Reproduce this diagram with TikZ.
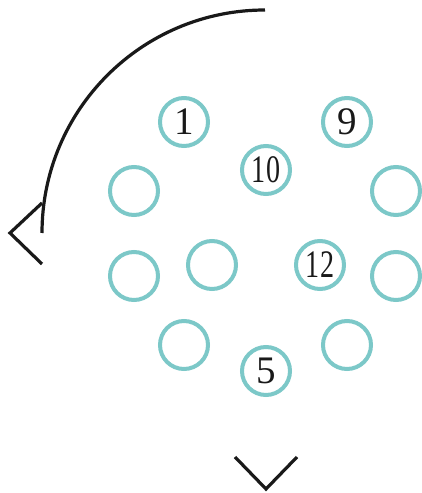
\documentclass[tikz,border=0pt]{standalone}
\usepackage{fontspec}
\setmainfont{Liberation Serif}
\usepackage{xcolor}
\usetikzlibrary{positioning,calc}
\definecolor{pinteal}{RGB}{124,200,200}
\tikzset{
  pin/.style={circle,draw=pinteal,line width=4pt,minimum size=48pt,inner sep=0pt,
    font=\fontsize{39}{42}\selectfont,text=black!90},
  turn/.style={black!90,line width=3.2pt}
}
\newcommand{\narrow}[1]{\scalebox{0.72}[1]{#1}}

\begin{document}
\begin{tikzpicture}[x=1pt,y=1pt]
\useasboundingbox (0,0) rectangle (421,493);

\foreach \n/\x/\y/\t in {p1/184/371/1, p9/347/371/9, p10/266/323/\narrow{10},
    pa/134/302/, pb/396/302/, pc/134/217/, pd/212/228/, p12/320/228/\narrow{12},
    pe/396/217/, pf/184/148/, p5/266/122/5, pg/347/148/} {
    \node[pin] (\n) at (\x,\y) {\t};
}

\coordinate (arcstart) at (265,483);
\coordinate (arcend) at (42,260);
\draw[turn] (arcstart) arc[start angle=90,end angle=180,radius=223];
\draw[turn] (42,290) -- (10,260) -- (42,229);

\coordinate (vtip) at (266,4);
\draw[turn] (235,36) -- (vtip) -- (297,36);
\end{tikzpicture}
\end{document}
